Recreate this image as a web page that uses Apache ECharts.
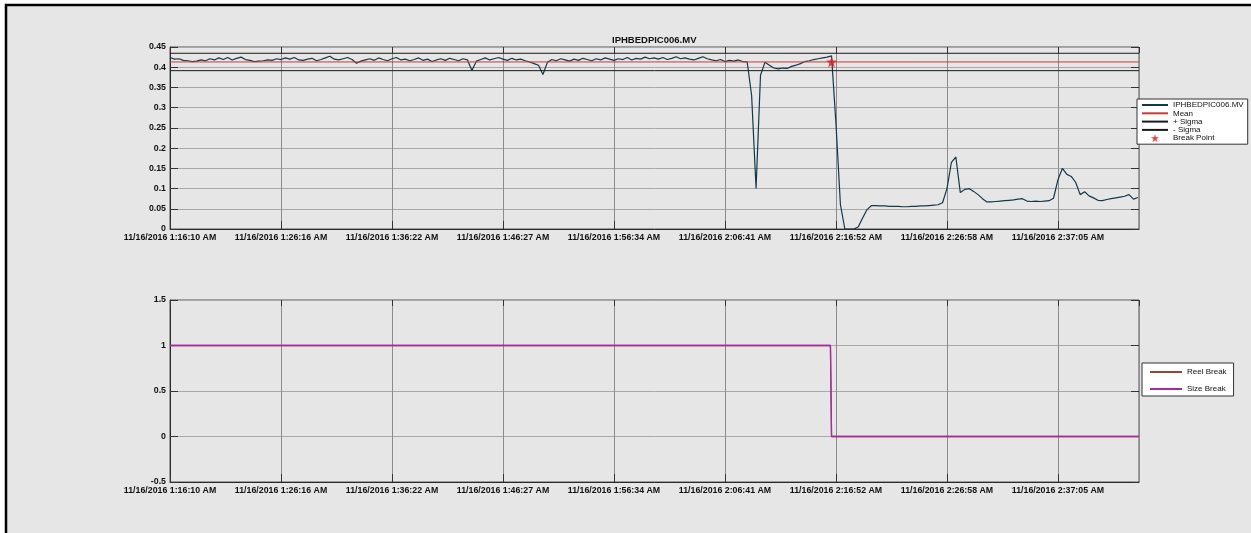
<!DOCTYPE html>
<html>
<head>
<meta charset="utf-8">
<script src="https://cdn.jsdelivr.net/npm/echarts@6/dist/echarts.min.js"></script>
<style>
html,body{margin:0;padding:0;background:#ffffff;}
#chart{width:1251px;height:533px;}
</style>
</head>
<body>
<div id="chart"></div>
<script>
// ---- data ----
const titleText = 'IPHBEDPIC006.MV';
const xTickLabels = ['11/16/2016 1:16:10 AM','11/16/2016 1:26:16 AM','11/16/2016 1:36:22 AM','11/16/2016 1:46:27 AM','11/16/2016 1:56:34 AM','11/16/2016 2:06:41 AM','11/16/2016 2:16:52 AM','11/16/2016 2:26:58 AM','11/16/2016 2:37:05 AM'];
const xTickStep = 100;      // samples between time labels
const xMax = 873;           // last sample index
const sampleStep = 4;       // samples between stored MV values
const mvValues = [
0.424,0.420,0.421,0.417,0.416,0.414,0.415,0.418,0.416,0.421,
0.418,0.423,0.419,0.424,0.418,0.422,0.425,0.419,0.417,0.414,
0.415,0.416,0.418,0.417,0.421,0.419,0.423,0.420,0.424,0.418,
0.417,0.420,0.422,0.416,0.419,0.423,0.427,0.420,0.418,0.421,
0.424,0.419,0.410,0.415,0.418,0.421,0.417,0.423,0.419,0.416,
0.421,0.424,0.418,0.420,0.416,0.419,0.423,0.417,0.420,0.414,
0.418,0.421,0.417,0.422,0.419,0.416,0.421,0.418,0.392,0.415,
0.419,0.423,0.418,0.421,0.424,0.420,0.417,0.422,0.418,0.420,
0.416,0.413,0.409,0.405,0.382,0.412,0.419,0.416,0.421,0.418,
0.415,0.420,0.417,0.422,0.419,0.416,0.421,0.418,0.423,0.420,
0.417,0.421,0.419,0.424,0.418,0.422,0.420,0.425,0.421,0.423,
0.420,0.424,0.419,0.422,0.426,0.421,0.423,0.420,0.418,0.422,
0.426,0.421,0.418,0.416,0.419,0.414,0.417,0.415,0.418,0.414,
0.413,0.330,0.100,0.380,0.412,0.405,0.398,0.396,0.398,0.397,
0.402,0.405,0.409,0.414,0.416,0.419,0.421,0.423,0.425,0.428,
0.260,0.060,0.000,0.000,0.000,0.005,0.027,0.048,0.058,0.058,
0.057,0.057,0.056,0.056,0.056,0.055,0.055,0.056,0.056,0.057,
0.057,0.058,0.059,0.060,0.065,0.100,0.165,0.178,0.090,0.098,
0.100,0.093,0.085,0.075,0.067,0.067,0.068,0.069,0.070,0.071,
0.072,0.074,0.075,0.069,0.068,0.069,0.068,0.069,0.070,0.076,
0.122,0.150,0.135,0.130,0.115,0.085,0.092,0.082,0.077,0.071,
0.070,0.073,0.075,0.077,0.079,0.081,0.085,0.074,0.078
];
const meanValue = 0.413;
const sigmaValue = 0.0215;
const breakPoint = [596, 0.413];
const breakX = [0, 595, 596, 873];
const reelBreak = [1, 1, 0, 0];
const sizeBreak = [1, 1, 0, 0];
const topYTicks = {min: 0, max: 0.45, interval: 0.05};
const bottomYTicks = {min: -0.5, max: 1.5, interval: 0.5};

// ---- chart ----
const FONT = 'Liberation Sans, Arial, sans-serif';
const mvData = mvValues.map((v, i) => [i * sampleStep, v]);
const flat = v => [[0, v], [xMax, v]];
const breakData = arr => breakX.map((x, i) => [x, arr[i]]);
const starPath = 'path://M50,2 L61,36 L97,36 L68,57 L79,92 L50,71 L21,92 L32,57 L3,36 L39,36 Z';
const labelStyle = {fontSize: 8.8, fontWeight: 'bold', color: '#111', fontFamily: FONT};

function xLabel(v) {
  const k = Math.round(v / xTickStep);
  if (Math.abs(v - k * xTickStep) < 1e-6 && xTickLabels[k]) return xTickLabels[k];
  return '';
}
function mainX(gridIndex) {
  return {
    type: 'value', gridIndex, position: 'bottom', min: 0, max: xMax, interval: xTickStep,
    axisLine: {show: true, onZero: false, lineStyle: {color: '#2a2a2a', width: 1}},
    axisTick: {show: true, inside: true, length: 8, lineStyle: {color: '#333'}},
    axisLabel: Object.assign({show: true, formatter: xLabel, margin: 4, showMaxLabel: false}, labelStyle),
    splitLine: {show: true, lineStyle: {color: '#8c8c8c', width: 1}}
  };
}
function mirrorX(gridIndex) {
  return {
    type: 'value', gridIndex, position: 'top', min: 0, max: xMax, interval: xTickStep,
    axisLine: {show: false, onZero: false}, axisLabel: {show: false}, splitLine: {show: false},
    axisTick: {show: true, inside: true, length: 6, lineStyle: {color: '#333'}}
  };
}
function mainY(gridIndex, t) {
  return {
    type: 'value', gridIndex, position: 'left', min: t.min, max: t.max, interval: t.interval,
    axisLine: {show: true, onZero: false, lineStyle: {color: '#2a2a2a', width: 1}},
    axisTick: {show: true, inside: true, length: 8, lineStyle: {color: '#333'}},
    axisLabel: Object.assign({show: true, margin: 4}, labelStyle),
    splitLine: {show: true, lineStyle: {color: '#a8a8a8', width: 1}}
  };
}
function mirrorY(gridIndex, t) {
  return {
    type: 'value', gridIndex, position: 'right', min: t.min, max: t.max, interval: t.interval,
    axisLine: {show: false, onZero: false}, axisLabel: {show: false}, splitLine: {show: false},
    axisTick: {show: true, inside: true, length: 8, lineStyle: {color: '#333'}}
  };
}
const hideSym = {opacity: 0};
const legendText = {fontSize: 8, lineHeight: 8, color: '#111', fontFamily: FONT};

const chart = echarts.init(document.getElementById('chart'), null, {renderer: 'canvas'});
chart.setOption({
  backgroundColor: '#ffffff',
  animation: false,
  graphic: {elements: [{
    type: 'rect', z: -100, silent: true,
    shape: {x: 6, y: 5, width: 1300, height: 600},
    style: {fill: '#e6e6e6', stroke: '#000000', lineWidth: 2.5}
  }]},
  title: {
    text: titleText, left: 612, top: 35, padding: 0,
    textStyle: {fontSize: 9.5, fontWeight: 'bold', color: '#111', fontFamily: FONT}
  },
  grid: [
    {left: 170, top: 47, width: 969, height: 182, show: true, borderColor: '#555', borderWidth: 1, backgroundColor: 'transparent'},
    {left: 170, top: 300, width: 969, height: 182, show: true, borderColor: '#555', borderWidth: 1, backgroundColor: 'transparent'}
  ],
  xAxis: [mainX(0), mirrorX(0), mainX(1), mirrorX(1)],
  yAxis: [mainY(0, topYTicks), mirrorY(0, topYTicks), mainY(1, bottomYTicks), mirrorY(1, bottomYTicks)],
  legend: [
    {
      data: [
        {name: 'IPHBEDPIC006.MV', itemStyle: hideSym},
        {name: 'Mean', itemStyle: hideSym},
        {name: '+ Sigma', itemStyle: hideSym},
        {name: '- Sigma', itemStyle: hideSym},
        {name: 'Break Point'}
      ],
      orient: 'vertical', left: 1137, top: 99,
      itemWidth: 26, itemHeight: 8, itemGap: 0.3,
      padding: [2, 4, 2, 4],
      backgroundColor: '#ffffff', borderColor: '#333', borderWidth: 1, borderRadius: 0,
      textStyle: legendText,
      selectedMode: false
    },
    {
      data: [
        {name: 'Reel Break', itemStyle: hideSym},
        {name: 'Size Break', itemStyle: hideSym}
      ],
      orient: 'vertical', left: 1142, top: 363,
      itemWidth: 32, itemHeight: 8, itemGap: 9,
      padding: [5, 7, 3, 7],
      backgroundColor: '#ffffff', borderColor: '#333', borderWidth: 1, borderRadius: 0,
      textStyle: legendText,
      selectedMode: false
    }
  ],
  series: [
    {name: 'IPHBEDPIC006.MV', type: 'line', xAxisIndex: 0, yAxisIndex: 0, data: mvData,
      symbol: 'none', lineStyle: {color: '#14384a', width: 1.2}, itemStyle: {color: '#14384a'}, z: 3},
    {name: 'Mean', type: 'line', xAxisIndex: 0, yAxisIndex: 0, data: flat(meanValue),
      symbol: 'none', lineStyle: {color: '#cc3a3a', width: 1}, itemStyle: {color: '#b02a2a'}, z: 4},
    {name: '+ Sigma', type: 'line', xAxisIndex: 0, yAxisIndex: 0, data: flat(meanValue + sigmaValue),
      symbol: 'none', lineStyle: {color: '#1a1a1a', width: 1}, itemStyle: {color: '#1a1a1a'}, z: 4},
    {name: '- Sigma', type: 'line', xAxisIndex: 0, yAxisIndex: 0, data: flat(meanValue - sigmaValue),
      symbol: 'none', lineStyle: {color: '#1a1a1a', width: 1}, itemStyle: {color: '#1a1a1a'}, z: 4},
    {name: 'Break Point', type: 'scatter', xAxisIndex: 0, yAxisIndex: 0, data: [breakPoint],
      symbol: starPath, symbolSize: 11, itemStyle: {color: '#e01818'}, z: 5},
    {name: 'Reel Break', type: 'line', xAxisIndex: 2, yAxisIndex: 2, data: breakData(reelBreak),
      symbol: 'none', lineStyle: {color: '#9c4038', width: 1.3}, itemStyle: {color: '#9c4038'}, z: 3},
    {name: 'Size Break', type: 'line', xAxisIndex: 2, yAxisIndex: 2, data: breakData(sizeBreak),
      symbol: 'none', lineStyle: {color: '#a62aa6', width: 1.3}, itemStyle: {color: '#a62aa6'}, z: 4}
  ]
});
</script>
</body>
</html>
